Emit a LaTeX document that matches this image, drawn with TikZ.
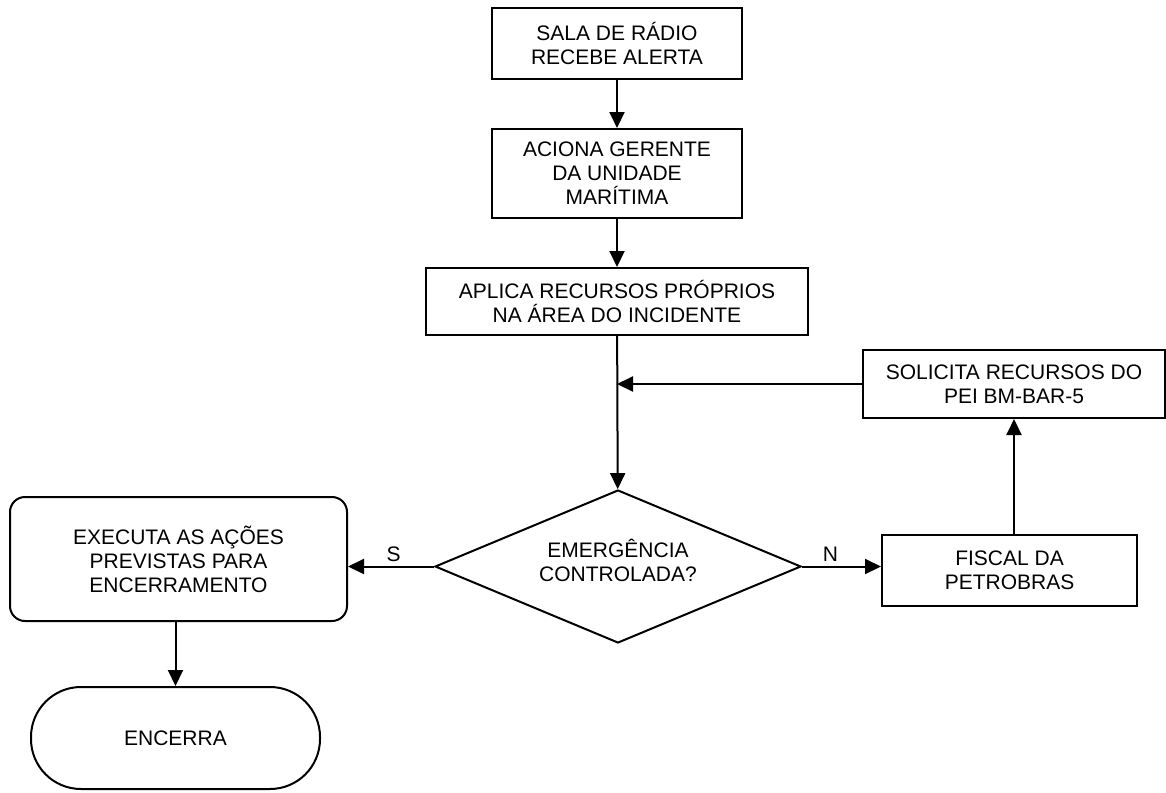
\documentclass[tikz,border=0pt]{standalone}
\usepackage{fontspec}
\setmainfont{Liberation Sans}
\usetikzlibrary{shapes.geometric,arrows.meta}
\begin{document}
\begin{tikzpicture}[x=1pt,y=-1pt,
  box/.style={draw,line width=2pt,align=center,inner sep=0pt,font=\fontsize{21}{24}\selectfont},
  arr/.style={line width=2pt,-{Triangle[length=16pt,width=15pt]}},
  lbl/.style={font=\fontsize{21}{24}\selectfont,inner sep=0pt,align=center}]
\useasboundingbox (0,0) rectangle (1166,792);
\node[box,minimum width=250pt,minimum height=71pt] (b1) at (617,43.5) {SALA DE RÁDIO\\RECEBE ALERTA};
\node[box,minimum width=250pt,minimum height=89pt] (b2) at (617,173.5) {ACIONA GERENTE\\DA UNIDADE\\MARÍTIMA};
\node[box,minimum width=382pt,minimum height=67pt] (b3) at (617,301.5) {APLICA RECURSOS PRÓPRIOS\\NA ÁREA DO INCIDENTE};
\node[box,minimum width=302pt,minimum height=68pt] (b4) at (1014,384) {SOLICITA RECURSOS DO\\PEI BM-BAR-5};
\node[box,diamond,minimum width=366pt,minimum height=153pt] (d) at (618,566.5) {};
\node[lbl] (dt) at (618,560) {EMERGÊNCIA\\CONTROLADA?};
\node[box,rounded corners=15pt,minimum width=337pt,minimum height=124pt] (b5) at (178.5,559) {EXECUTA AS AÇÕES\\PREVISTAS PARA\\ENCERRAMENTO};
\node[box,minimum width=255pt,minimum height=71pt] (b6) at (1009.5,570.5) {FISCAL DA\\PETROBRAS};
\node[box,rounded corners=50pt,minimum width=289pt,minimum height=102pt] (t) at (175.5,738) {ENCERRA};
\draw[arr] (b1) -- (b2);
\draw[arr] (b2) -- (b3);
\draw[arr] (b3) -- (d);
\draw[arr] (b4.west) -- (b4.west -| b3.south);
\draw[arr] (d.west) -- (d.west -| b5.east) node[lbl,pos=0.47,above=4pt] {S};
\draw[arr] (d.east) -- (d.east -| b6.west) node[lbl,pos=0.36,above=4pt] {N};
\draw[arr] (b6.north -| b4.south) -- (b4.south);
\draw[arr] (b5.south -| t.north) -- (t.north);
\end{tikzpicture}
\end{document}
